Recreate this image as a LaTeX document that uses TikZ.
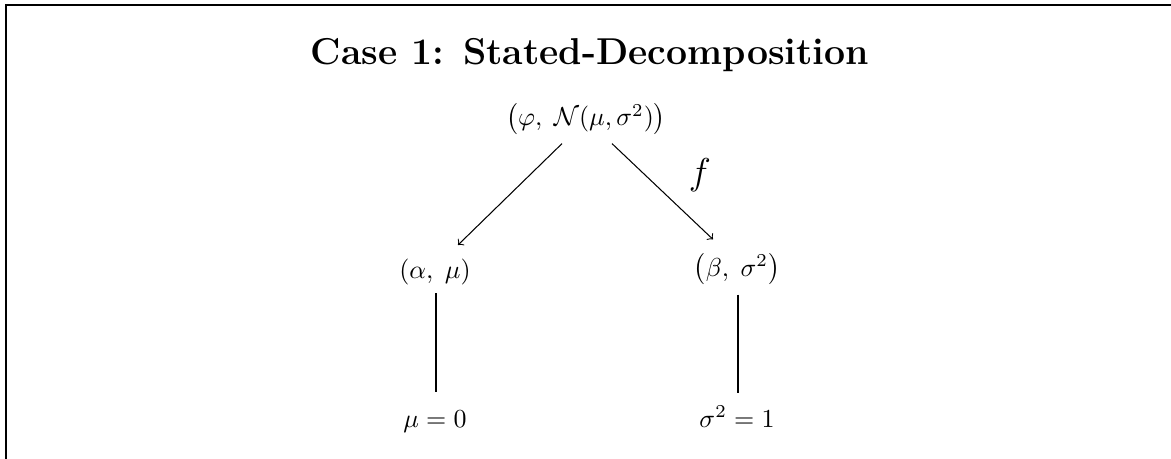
\documentclass[tikz,border=0pt]{standalone}
\usetikzlibrary{calc}
\begin{document}
\begin{tikzpicture}[x=0.385pt,y=-0.385pt,
  frame/.style={line width=0.95pt},
  lbl/.style={inner sep=0pt,anchor=base},
  arr/.style={->,line width=0.4pt},
  link/.style={line width=0.4pt}]
\useasboundingbox (0,0) rectangle (1171,459);
\draw[frame] (5.8,460) -- (5.8,4.8) -- (1172,4.8);
\node[lbl] (title) at (590,65) {\Large\bfseries Case 1: Stated-Decomposition};
\node[lbl] (top) at (586,126) {$\bigl(\varphi,\; \mathcal{N}(\mu,\sigma^2)\bigr)$};
\node[lbl] (a) at (435,278) {$(\alpha,\; \mu)$};
\node[lbl] (b) at (737,276) {$\bigl(\beta,\; \sigma^2\bigr)$};
\node[lbl] (m) at (435,427) {$\mu = 0$};
\node[lbl] (s) at (737,427) {$\sigma^2 = 1$};
\node[lbl] (f) at (700,185) {\Large $f$};
\draw[arr] ($(top.south)+(-24,8)$) -- ($(a.north)+(23,-13)$);
\draw[arr] ($(top.south)+(26,8)$) -- ($(b.north)+(-24,-14)$);
\draw[link] ($(a.south)+(1,8)$) -- ($(m.north)+(1,-18)$);
\draw[link] ($(b.south)+(1,9)$) -- ($(s.north)+(1,-12)$);
\end{tikzpicture}
\end{document}
